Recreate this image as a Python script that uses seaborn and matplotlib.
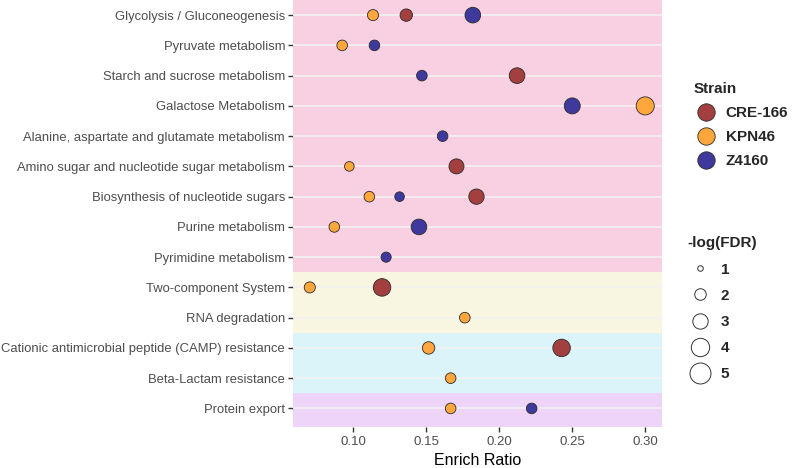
import matplotlib
matplotlib.use("Agg")
import numpy as np
import pandas as pd
import seaborn as sns
import matplotlib.pyplot as plt
from matplotlib.lines import Line2D

# pathways top to bottom, with the band each one sits in
pathways = [
    "Glycolysis / Gluconeogenesis",
    "Pyruvate metabolism",
    "Starch and sucrose metabolism",
    "Galactose Metabolism",
    "Alanine, aspartate and glutamate metabolism",
    "Amino sugar and nucleotide sugar metabolism",
    "Biosynthesis of nucleotide sugars",
    "Purine metabolism",
    "Pyrimidine metabolism",
    "Two-component System",
    "RNA degradation",
    "Cationic antimicrobial peptide (CAMP) resistance",
    "Beta-Lactam resistance",
    "Protein export",
]
pathway_group = ["Metabolism"] * 9 + ["Signal"] * 2 + ["Resistance"] * 2 + ["Export"]
group_colors = {
    "Metabolism": "#F9D0E1",
    "Signal": "#F8F5E1",
    "Resistance": "#DBF4F9",
    "Export": "#EFD4F9",
}

strains = ["CRE-166", "KPN46", "Z4160"]
strain_colors = ["#A33F3F", "#FFA63D", "#3F399E"]

# one entry per point
point_pathway = [
    "Glycolysis / Gluconeogenesis", "Glycolysis / Gluconeogenesis", "Glycolysis / Gluconeogenesis",
    "Pyruvate metabolism", "Pyruvate metabolism",
    "Starch and sucrose metabolism", "Starch and sucrose metabolism",
    "Galactose Metabolism", "Galactose Metabolism",
    "Alanine, aspartate and glutamate metabolism",
    "Amino sugar and nucleotide sugar metabolism", "Amino sugar and nucleotide sugar metabolism",
    "Biosynthesis of nucleotide sugars", "Biosynthesis of nucleotide sugars", "Biosynthesis of nucleotide sugars",
    "Purine metabolism", "Purine metabolism",
    "Pyrimidine metabolism",
    "Two-component System", "Two-component System",
    "RNA degradation",
    "Cationic antimicrobial peptide (CAMP) resistance", "Cationic antimicrobial peptide (CAMP) resistance",
    "Beta-Lactam resistance",
    "Protein export", "Protein export",
]
point_strain = [
    "KPN46", "CRE-166", "Z4160",
    "KPN46", "Z4160",
    "Z4160", "CRE-166",
    "Z4160", "KPN46",
    "Z4160",
    "KPN46", "CRE-166",
    "KPN46", "Z4160", "CRE-166",
    "KPN46", "Z4160",
    "Z4160",
    "KPN46", "CRE-166",
    "KPN46",
    "KPN46", "CRE-166",
    "KPN46",
    "KPN46", "Z4160",
]
enrich_ratio = [
    0.1135, 0.1363, 0.1819,
    0.0924, 0.1145,
    0.1470, 0.2122,
    0.2500, 0.3000,
    0.1612,
    0.0973, 0.1707,
    0.1110, 0.1317, 0.1844,
    0.0870, 0.1450,
    0.1225,
    0.0702, 0.1197,
    0.1764,
    0.1516, 0.2427,
    0.1667,
    0.1667, 0.2222,
]
neg_log_fdr = [
    1.9, 2.2, 3.1,
    1.8, 1.8,
    1.8, 3.1,
    3.2, 3.9,
    1.8,
    1.6, 2.9,
    1.8, 1.6, 3.0,
    1.8, 3.1,
    1.7,
    1.9, 3.7,
    1.8,
    2.2, 3.7,
    1.8,
    1.8, 1.8,
]
size_breaks = [1, 2, 3, 4, 5]

df = pd.DataFrame({
    "Pathway": pd.Categorical(point_pathway, categories=pathways, ordered=True),
    "Strain": point_strain,
    "Enrich Ratio": enrich_ratio,
    "-log(FDR)": neg_log_fdr,
})
df["row"] = df["Pathway"].cat.codes

sns.set_theme(style="white")
plt.rcParams["font.family"] = ["Liberation Sans", "DejaVu Sans"]

size_range = (16, 228)
size_norm = (1, 5)

fig = plt.figure(figsize=(7.93, 4.68), dpi=100)
ax = fig.add_axes([0.3695, 0.0885, 0.4653, 0.9115])

n = len(pathways)
y_bottom = n - 1 + 0.6
# coloured bands per pathway group
start = 0
for i in range(1, n + 1):
    if i == n or pathway_group[i] != pathway_group[start]:
        lo = start - 0.5
        hi = y_bottom if i == n else i - 0.5
        ax.axhspan(lo, hi, color=group_colors[pathway_group[start]], lw=0, zorder=0)
        start = i
for i in range(n):
    ax.axhline(i, color="#F2F2F2", lw=1.2, zorder=1)

sns.scatterplot(
    data=df, x="Enrich Ratio", y="row", hue="Strain", hue_order=strains,
    palette=strain_colors, size="-log(FDR)", sizes=size_range, size_norm=size_norm,
    edgecolor="#2b2b2b", linewidth=0.6, legend=False, zorder=3, ax=ax,
)

lo_x, hi_x = min(enrich_ratio), max(enrich_ratio)
pad = (hi_x - lo_x) * 0.05
ax.set_xlim(lo_x - pad, hi_x + pad)
ax.set_ylim(y_bottom, -0.5)
ax.set_yticks(range(n))
ax.set_yticklabels(pathways)
ax.set_xticks([0.10, 0.15, 0.20, 0.25, 0.30])
ax.set_xticklabels(["0.10", "0.15", "0.20", "0.25", "0.30"])
ax.set_xlabel("Enrich Ratio", fontsize=11.5, color="black", labelpad=4)
ax.set_ylabel("")
ax.tick_params(axis="x", which="major", length=3.5, width=1, color="#333333",
               labelcolor="#4D4D4D", labelsize=9.5, pad=3, bottom=True)
ax.tick_params(axis="y", which="major", length=3.5, width=1, color="#333333",
               labelcolor="#4D4D4D", labelsize=9.35, pad=2.2, left=True)
for s in ax.spines.values():
    s.set_visible(False)

# strain legend
strain_handles = [
    Line2D([], [], marker="o", ls="", markersize=12.5, markerfacecolor=c,
           markeredgecolor="#2b2b2b", markeredgewidth=0.6)
    for c in strain_colors
]
leg1 = fig.legend(strain_handles, strains, title="Strain", loc="upper left",
                  bbox_to_anchor=(0.867, 0.838), frameon=False,
                  prop={"weight": "bold", "size": 11}, handletextpad=0.5,
                  labelspacing=0.66, borderaxespad=0, handlelength=1.6)
leg1.get_title().set_fontweight("bold")
leg1.get_title().set_fontsize(11)
leg1._legend_box.align = "left"

# size legend
size_handles = []
for b in size_breaks:
    s = size_range[0] + (b - size_norm[0]) / (size_norm[1] - size_norm[0]) * (size_range[1] - size_range[0])
    size_handles.append(Line2D([], [], marker="o", ls="", markersize=np.sqrt(s),
                               markerfacecolor="white", markeredgecolor="#333333",
                               markeredgewidth=0.7))
leg2 = fig.legend(size_handles, [str(b) for b in size_breaks], title="-log(FDR)",
                  loc="upper left", bbox_to_anchor=(0.8595, 0.508), frameon=False,
                  prop={"weight": "bold", "size": 11}, handletextpad=0.55,
                  labelspacing=0.8, borderaxespad=0, handlelength=1.6)
leg2.get_title().set_fontweight("bold")
leg2.get_title().set_fontsize(11)
leg2._legend_box.align = "left"

fig.savefig("out.png", dpi=100)
